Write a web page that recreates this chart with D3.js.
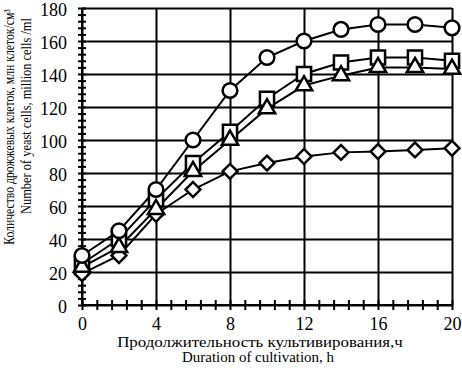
<!DOCTYPE html>
<html>
<head>
<meta charset="utf-8">
<script src="https://cdn.jsdelivr.net/npm/d3@7"></script>
<style>
  body { margin: 0; background: #fff; }
</style>
</head>
<body>
<div id="chart"></div>
<script>
// Yeast cell count vs cultivation time, four series with hollow markers

const hours = [0, 2, 4, 6, 8, 10, 12, 14, 16, 18, 20];
const circleVals   = [30, 45, 70, 100, 130, 150, 160, 167, 170, 170, 168];
const squareVals   = [25, 40, 64, 86, 105, 125, 140, 147, 150, 150, 148];
const triangleVals = [23, 35, 58, 81, 100, 119, 133, 139, 144, 144, 143];
const diamondVals  = [19, 30, 55, 70, 81, 86, 90, 92.5, 93, 94, 95];

const xTicks = [0, 4, 8, 12, 16, 20];
const yTicks = [0, 20, 40, 60, 80, 100, 120, 140, 160, 180];
const xTitle = ["Продолжительность культивирования,ч", "Duration of cultivation, h"];
const yTitle = ["Количество дрожжевых клеток, млн клеток/см³", "Number of yeast cells, million cells /ml"];

const FONT = "'Liberation Serif', 'Times New Roman', serif";
const width = 462, height = 375;
const margin = { top: 8, right: 10, bottom: 70, left: 82 };
const innerW = width - margin.left - margin.right;
const innerH = height - margin.top - margin.bottom;

const svg = d3.select("#chart").append("svg")
  .attr("width", width)
  .attr("height", height)
  .style("font-family", FONT);

const g = svg.append("g").attr("transform", `translate(${margin.left},${margin.top})`);

const x = d3.scaleLinear().domain([0, 20]).range([0, innerW]);
const y = d3.scaleLinear().domain([0, 180]).range([innerH, 0]);

// grid lines
g.append("g")
  .call(d3.axisLeft(y).tickValues(yTicks).tickSize(-innerW).tickFormat(""))
  .call(a => a.select(".domain").remove())
  .selectAll("line").attr("stroke", "#000").attr("stroke-width", 2);
g.append("g")
  .attr("transform", `translate(0,${innerH})`)
  .call(d3.axisBottom(x).tickValues(xTicks).tickSize(-innerH).tickFormat(""))
  .call(a => a.select(".domain").remove())
  .selectAll("line").attr("stroke", "#000").attr("stroke-width", 2);

// minor ticks crossing the axes
const yMinor = d3.range(0, 181, 4);
const xMinor = d3.range(0, 20.01, 0.8);
[d3.axisLeft, d3.axisRight].forEach(ax => {
  g.append("g")
    .call(ax(y).tickValues(yMinor).tickSize(4).tickFormat(""))
    .call(a => a.select(".domain").remove())
    .selectAll("line").attr("stroke", "#000").attr("stroke-width", 2);
});
[d3.axisBottom, d3.axisTop].forEach(ax => {
  g.append("g")
    .attr("transform", `translate(0,${innerH})`)
    .call(ax(x).tickValues(xMinor).tickSize(5).tickFormat(""))
    .call(a => a.select(".domain").remove())
    .selectAll("line").attr("stroke", "#000").attr("stroke-width", 2);
});

// axis lines
g.append("line").attr("x1", 0).attr("x2", 0).attr("y1", 0).attr("y2", innerH)
  .attr("stroke", "#000").attr("stroke-width", 2);
g.append("line").attr("x1", 0).attr("x2", innerW).attr("y1", innerH).attr("y2", innerH)
  .attr("stroke", "#000").attr("stroke-width", 2);

// tick labels
g.append("g")
  .attr("transform", `translate(0,${innerH})`)
  .call(d3.axisBottom(x).tickValues(xTicks).tickSize(0).tickPadding(12))
  .call(a => a.select(".domain").remove())
  .selectAll("text")
  .style("font-family", FONT).style("font-size", "18px").attr("fill", "#000");
g.append("g")
  .call(d3.axisLeft(y).tickValues(yTicks).tickSize(0).tickPadding(15))
  .call(a => a.select(".domain").remove())
  .selectAll("text")
  .style("font-family", FONT).style("font-size", "18px").attr("fill", "#000")
  .attr("dy", "0.4em");

// series
const series = [
  { vals: diamondVals, shape: d3.symbolSquare, size: 110, rot: 45 },
  { vals: squareVals, shape: d3.symbolSquare, size: 200, rot: 0 },
  { vals: triangleVals, shape: d3.symbolTriangle, size: 115, rot: 0 },
  { vals: circleVals, shape: d3.symbolCircle, size: 170, rot: 0 }
];

const line = d3.line().x((d, i) => x(hours[i])).y(d => y(d));

series.forEach(s => {
  g.append("path")
    .datum(s.vals)
    .attr("fill", "none")
    .attr("stroke", "#000")
    .attr("stroke-width", 2)
    .attr("d", line);
});
series.forEach(s => {
  g.selectAll(null)
    .data(s.vals)
    .join("path")
    .attr("transform", (d, i) => `translate(${x(hours[i])},${y(d)}) rotate(${s.rot})`)
    .attr("d", d3.symbol().type(s.shape).size(s.size))
    .attr("fill", "#fff")
    .attr("stroke", "#000")
    .attr("stroke-width", 2.5);
});

// axis titles, scaled horizontally to the widths seen in the picture
function title(txt, cx, cy, size, target, rot) {
  const t = svg.append("text")
    .attr("text-anchor", "middle")
    .style("font-size", size + "px")
    .text(txt);
  const sx = target / t.node().getComputedTextLength();
  t.attr("transform", `translate(${cx},${cy}) rotate(${rot}) scale(${sx},1)`);
}

title(xTitle[0], 260, 347, 15, 286, 0);
title(xTitle[1], 258, 362, 15, 152, 0);
title(yTitle[0], 14, 127, 14, 236, -90);
title(yTitle[1], 31, 116, 14, 196, -90);
</script>
</body>
</html>
